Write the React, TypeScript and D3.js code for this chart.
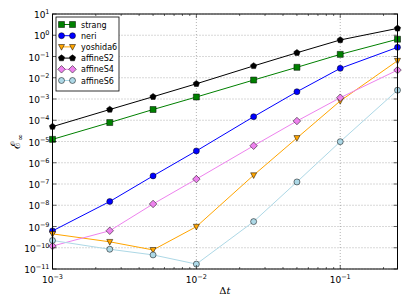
import * as d3 from "d3";

// step sizes
const dts = [0.001, 0.0025, 0.005, 0.01, 0.025, 0.05, 0.1, 0.25];

const strang = [1.26e-5, 7.8e-5, 3.2e-4, 1.24e-3, 7.8e-3, 0.031, 0.126, 0.65];
const neri = [6.2e-10, 1.5e-8, 2.4e-7, 3.6e-6, 1.47e-4, 2.2e-3, 0.0277, 0.27];
const yoshida6 = [4.5e-10, 1.9e-10, 7.9e-11, 9.8e-10, 2.6e-7, 1.46e-5, 8.1e-4, 0.063];
const affineS2 = [5.0e-5, 3.2e-4, 1.28e-3, 5.2e-3, 0.036, 0.15, 0.6, 2.1];
const affineS4 = [1.2e-10, 6.3e-10, 1.15e-8, 1.7e-7, 6.3e-6, 9.2e-5, 1.15e-3, 0.023];
const affineS6 = [2.2e-10, 8.5e-11, 4.6e-11, 1.7e-11, 1.7e-9, 1.25e-7, 9.8e-6, 2.6e-3];

const xTicks = [1e-3, 1e-2, 1e-1];
const yExps = d3.range(-11, 2);

type Marker = "square" | "circle" | "tri" | "pent" | "diamond";
const series: { name: string; values: number[]; color: string; marker: Marker }[] = [
  { name: "strang", values: strang, color: "#008000", marker: "square" },
  { name: "neri", values: neri, color: "#0000ff", marker: "circle" },
  { name: "yoshida6", values: yoshida6, color: "#ffa500", marker: "tri" },
  { name: "affineS2", values: affineS2, color: "#000000", marker: "pent" },
  { name: "affineS4", values: affineS4, color: "#ee82ee", marker: "diamond" },
  { name: "affineS6", values: affineS6, color: "#add8e6", marker: "circle" },
];

const W = 407;
const H = 305;
const m = { left: 52.5, right: 9.5, top: 14, bottom: 36 };

function markerPath(kind: Marker, s: number): string {
  const r = s / 2;
  if (kind === "square") return `M${-r},${-r}H${r}V${r}H${-r}Z`;
  if (kind === "diamond") return `M0,${-r * 1.25}L${r * 1.25},0L0,${r * 1.25}L${-r * 1.25},0Z`;
  if (kind === "tri") return `M${-r},${-r * 0.8}L${r},${-r * 0.8}L0,${r * 1.1}Z`;
  if (kind === "pent") {
    const pts = d3.range(5).map((i) => {
      const a = -Math.PI / 2 + (i * 2 * Math.PI) / 5;
      return [r * 1.1 * Math.cos(a), r * 1.1 * Math.sin(a)];
    });
    return "M" + pts.map((p) => p.join(",")).join("L") + "Z";
  }
  return d3.symbol(d3.symbolCircle, Math.PI * r * r)()!;
}

function Pow({ x, y, exp, anchor }: { x: number; y: number; exp: number; anchor: string }) {
  return (
    <text x={x} y={y} textAnchor={anchor} fontSize={9} fill="#000">
      10
      <tspan dy={-4} fontSize={6.5}>
        {exp < 0 ? "\u2212" + Math.abs(exp) : exp}
      </tspan>
    </text>
  );
}

export default function App() {
  const x = d3.scaleLog().domain([0.001, 0.25]).range([m.left, W - m.right]);
  const y = d3.scaleLog().domain([1e-11, 10]).range([H - m.bottom, m.top]);
  const x0 = m.left;
  const x1 = W - m.right;
  const y0 = H - m.bottom;
  const y1 = m.top;

  const line = d3
    .line<[number, number]>()
    .x((d) => x(d[0]))
    .y((d) => y(d[1]));

  const xMinor: number[] = [];
  for (let e = -3; e <= -1; e++)
    for (let k = 2; k <= 9; k++) {
      const v = k * Math.pow(10, e);
      if (v <= 0.25) xMinor.push(v);
    }

  return (
    <svg width={W} height={H} style={{ position: "absolute", left: 0, top: 0 }} fontFamily="DejaVu Sans, sans-serif">
      <rect width={W} height={H} fill="#fff" />
      {/* grid */}
      <g stroke="#000" strokeWidth={0.5} strokeDasharray="1,2" opacity={0.6}>
        {xTicks.map((t) => (
          <line key={t} x1={x(t)} x2={x(t)} y1={y0} y2={y1} />
        ))}
        {yExps.map((e) => (
          <line key={e} x1={x0} x2={x1} y1={y(Math.pow(10, e))} y2={y(Math.pow(10, e))} />
        ))}
      </g>
      {/* series */}
      {series.map((s) => {
        const pts = dts.map((d, i) => [d, s.values[i]] as [number, number]);
        return (
          <g key={s.name}>
            <path d={line(pts)!} fill="none" stroke={s.color} strokeWidth={1} />
            {pts.map((p, i) => (
              <path
                key={i}
                d={markerPath(s.marker, 6)}
                transform={`translate(${x(p[0])},${y(p[1])})`}
                fill={s.color}
                stroke="#000"
                strokeWidth={0.5}
              />
            ))}
          </g>
        );
      })}
      {/* ticks */}
      <g stroke="#000" strokeWidth={0.6}>
        {xTicks.map((t) => (
          <g key={t}>
            <line x1={x(t)} x2={x(t)} y1={y0} y2={y0 - 4} />
            <line x1={x(t)} x2={x(t)} y1={y1} y2={y1 + 4} />
          </g>
        ))}
        {xMinor.map((t) => (
          <g key={t}>
            <line x1={x(t)} x2={x(t)} y1={y0} y2={y0 - 2} />
            <line x1={x(t)} x2={x(t)} y1={y1} y2={y1 + 2} />
          </g>
        ))}
        {yExps.map((e) => (
          <g key={e}>
            <line x1={x0} x2={x0 + 4} y1={y(Math.pow(10, e))} y2={y(Math.pow(10, e))} />
            <line x1={x1} x2={x1 - 4} y1={y(Math.pow(10, e))} y2={y(Math.pow(10, e))} />
          </g>
        ))}
      </g>
      <rect x={x0} y={y1} width={x1 - x0} height={y0 - y1} fill="none" stroke="#000" strokeWidth={1} />
      {/* tick labels */}
      {xTicks.map((t) => (
        <Pow key={t} x={x(t)} y={y0 + 14} exp={Math.round(Math.log10(t))} anchor="middle" />
      ))}
      {yExps.map((e) => (
        <Pow key={e} x={x0 - 3} y={y(Math.pow(10, e)) + 4} exp={e} anchor="end" />
      ))}
      {/* axis labels */}
      <text x={(x0 + x1) / 2} y={H - 11} textAnchor="middle" fontSize={10} fontFamily="DejaVu Serif, serif">
        Δ<tspan fontStyle="italic">t</tspan>
      </text>
      <text transform={`translate(20,${(y0 + y1) / 2}) rotate(-90)`} textAnchor="middle" fontSize={13} fontFamily="DejaVu Serif, serif">
        ℰ<tspan dy={3} fontSize={8}>∞</tspan>
      </text>
      {/* legend */}
      <g transform="translate(56,17)">
        <rect width={63} height={74} fill="#fff" stroke="#000" strokeWidth={0.8} />
        {series.map((s, i) => {
          const ly = 7.5 + i * 11.2;
          return (
            <g key={s.name}>
              <line x1={5.5} x2={16.5} y1={ly} y2={ly} stroke={s.color} strokeWidth={1} />
              {[5.5, 16.5].map((lx) => (
                <path
                  key={lx}
                  d={markerPath(s.marker, 6)}
                  transform={`translate(${lx},${ly})`}
                  fill={s.color}
                  stroke="#000"
                  strokeWidth={0.5}
                />
              ))}
              <text x={25} y={ly + 3} fontSize={8}>
                {s.name}
              </text>
            </g>
          );
        })}
      </g>
    </svg>
  );
}
